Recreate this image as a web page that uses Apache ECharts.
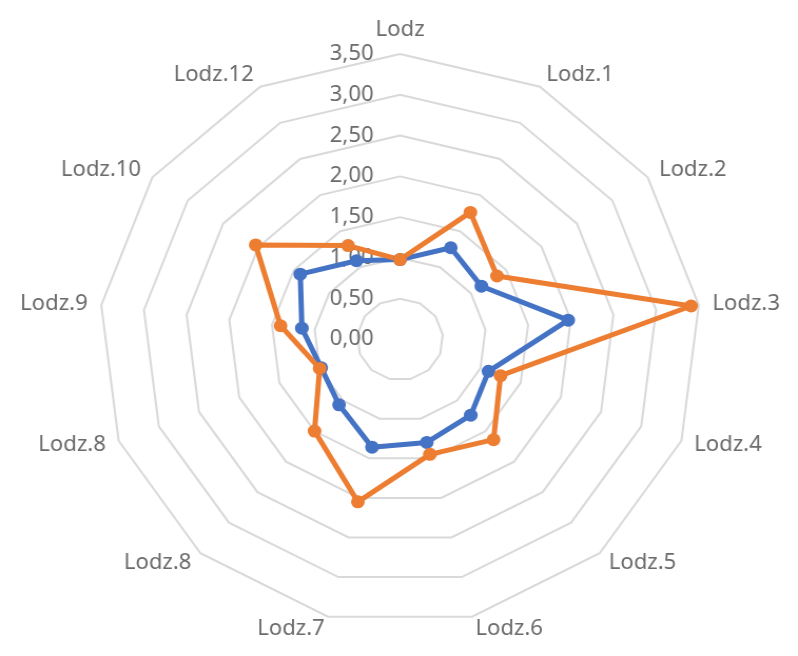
<!DOCTYPE html>
<html>
<head>
<meta charset="utf-8">
<script src="https://cdn.jsdelivr.net/npm/echarts@6/dist/echarts.min.js"></script>
<style>
  html, body { margin: 0; padding: 0; background: #ffffff; overflow: hidden; }
  #wrap { width: 798px; height: 656px; overflow: hidden; }
  /* the plot is drawn slightly wider than tall */
  #chart { width: 757px; height: 656px; transform: scaleX(1.0541); transform-origin: 0 0; }
</style>
</head>
<body>
<div id="wrap"><div id="chart"></div></div>
<script>
// Axis names, listed clockwise from the top
const categories = ['Lodz', 'Lodz.1', 'Lodz.2', 'Lodz.3', 'Lodz.4', 'Lodz.5', 'Lodz.6',
                    'Lodz.7', 'Lodz.8', 'Lodz.8', 'Lodz.9', 'Lodz.10', 'Lodz.12'];

// Series values, same order as categories
const blueValues   = [0.98, 1.27, 1.15, 1.97, 1.10, 1.24, 1.30, 1.36, 1.07, 0.98, 1.15, 1.41, 1.09];
const orangeValues = [0.98, 1.76, 1.37, 3.41, 1.25, 1.64, 1.45, 2.05, 1.50, 1.00, 1.40, 2.04, 1.30];

// Value scale
const axisMin = 0;
const axisMax = 3.5;
const axisStep = 0.5;

const textColor = '#6b6b6b';
const fontFamily = 'Noto Sans, sans-serif';
const fontSize = 21;

// ECharts places radar indicators counter-clockwise, so feed them in reverse (top stays first)
const n = categories.length;
const order = categories.map((_, i) => (n - i) % n);
const reorder = arr => order.map(i => arr[i]);

const indicator = order.map((i, j) => {
  const ind = { name: categories[i], min: axisMin, max: axisMax };
  if (j === 0) {
    ind.axisLabel = {
      show: true,
      color: textColor,
      fontSize: fontSize,
      fontFamily: fontFamily,
      margin: 25,
      padding: [13, 0, 0, 0],
      showMinLabel: true,
      showMaxLabel: true,
      formatter: v => Number(v).toFixed(2).replace('.', ',')
    };
  }
  return ind;
});

const chart = echarts.init(document.getElementById('chart'), null, { renderer: 'canvas' });

chart.setOption({
  animation: false,
  backgroundColor: '#ffffff',
  radar: {
    center: [379.5, 339.5],
    radius: 285.5,
    startAngle: 90,
    shape: 'polygon',
    splitNumber: Math.round((axisMax - axisMin) / axisStep),
    indicator: indicator,
    nameGap: 13,
    axisName: { color: textColor, fontSize: fontSize, fontFamily: fontFamily },
    axisLine: { show: false },
    axisTick: { show: false },
    axisLabel: { show: false },
    splitLine: { lineStyle: { color: '#d9d9d9', width: 2 } },
    splitArea: { show: false }
  },
  series: [{
    type: 'radar',
    symbol: 'circle',
    symbolSize: 13,
    data: [
      {
        name: 'Seria 1',
        value: reorder(blueValues),
        lineStyle: { color: '#4472C4', width: 5 },
        itemStyle: { color: '#4472C4' }
      },
      {
        name: 'Seria 2',
        value: reorder(orangeValues),
        lineStyle: { color: '#ED7D31', width: 5 },
        itemStyle: { color: '#ED7D31' }
      }
    ]
  }]
});
</script>
</body>
</html>
